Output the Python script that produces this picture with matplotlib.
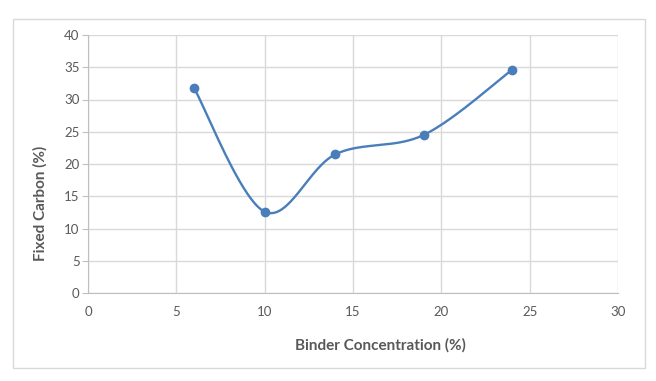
import numpy as np
import matplotlib.pyplot as plt
from matplotlib.patches import Rectangle

binder = [6, 10, 14, 19, 24]
fixed_carbon = [31.8, 12.6, 21.5, 24.5, 34.6]
x_ticks = [0, 5, 10, 15, 20, 25, 30]
y_ticks = [0, 5, 10, 15, 20, 25, 30, 35, 40]

W, H = 656, 381
fig = plt.figure(figsize=(W / 100, H / 100), dpi=100)
fig.patch.set_facecolor("white")
fig.patches.append(Rectangle((13 / W, 1 - 368 / H), (645 - 13) / W, (368 - 19) / H,
                             transform=fig.transFigure, fill=False,
                             edgecolor="#d9d9d9", linewidth=1))

ax = fig.add_axes([88 / W, 1 - 293 / H, (618 - 88) / W, (293 - 35) / H])


def smooth(xs, ys, n=60):
    # Excel-style smoothed line: cubic bezier through points (catmull-rom tangents)
    # done in display pixels so the curve shape matches the screen
    pts = ax.transData.transform(np.column_stack([xs, ys]))
    out = []
    for i in range(len(pts) - 1):
        p0 = pts[max(i - 1, 0)]
        p1 = pts[i]
        p2 = pts[i + 1]
        p3 = pts[min(i + 2, len(pts) - 1)]
        c1 = p1 + (p2 - p0) / 6
        c2 = p2 - (p3 - p1) / 6
        t = np.linspace(0, 1, n)[:, None]
        seg = ((1 - t) ** 3) * p1 + 3 * ((1 - t) ** 2) * t * c1 + 3 * (1 - t) * t ** 2 * c2 + t ** 3 * p2
        out.append(seg)
    out = np.vstack(out)
    return ax.transData.inverted().transform(out)


ax.set_xlim(0, 30)
ax.set_ylim(0, 40)
ax.set_xticks(x_ticks)
ax.set_yticks(y_ticks)

curve = smooth(binder, fixed_carbon)
color = "#4a7ebb"
ax.plot(curve[:, 0], curve[:, 1], color=color, linewidth=1.7, solid_capstyle="round", zorder=3)
ax.plot(binder, fixed_carbon, "o", color=color, markersize=6, zorder=4)

ax.grid(True, color="#d9d9d9", linewidth=1)
ax.set_axisbelow(True)
for s in ["top", "right"]:
    ax.spines[s].set_visible(False)
ax.spines["left"].set_color("#bfbfbf")
ax.spines["bottom"].set_color("#bfbfbf")
ax.tick_params(axis="y", length=4, color="#bfbfbf", labelsize=9.5, labelcolor="#595959", pad=2)
ax.tick_params(axis="x", length=0, labelsize=9.5, labelcolor="#595959", pad=9)
for lab in ax.get_xticklabels() + ax.get_yticklabels():
    lab.set_family("Lato")

fig.text(380 / W, 1 - 345 / H, "Binder Concentration (%)", ha="center", va="center",
         fontsize=11, fontweight="bold", color="#595959", family="Lato")
fig.text(40 / W, 1 - 203 / H, "Fixed Carbon (%)", ha="center", va="center", rotation=90,
         fontsize=11, fontweight="bold", color="#595959", family="Lato")

fig.savefig("out.png", dpi=100)
